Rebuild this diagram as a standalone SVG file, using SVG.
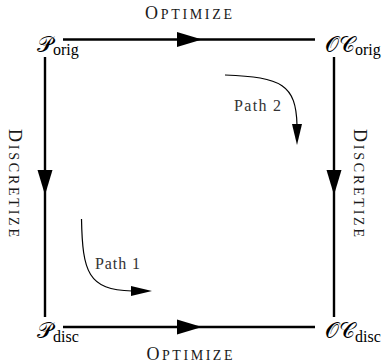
<svg xmlns="http://www.w3.org/2000/svg" width="387" height="364" viewBox="0 0 387 364">
<style>
.edge{fill:none;stroke:#000;stroke-width:2.4}
.curve{fill:none;stroke:#000;stroke-width:1.2}
.lbl{font-family:"Liberation Serif",serif;fill:#1a1a1a}
.big{font-size:18px}
.sc{font-size:14px}
.path{font-family:"Liberation Serif",serif;font-size:16px;fill:#333}
.cal{font-family:"DejaVu Serif","DejaVu Sans",serif;font-size:22px}
.sub{font-family:"Liberation Serif",serif;font-size:16px}
</style>
<defs>
<path id="ah" d="M0,0 L-25,-7.5 L-25,7.5 Z" fill="#000"/>
<path id="sah" d="M0,0 L-21,-5 L-21,5 Z" fill="#000"/>
</defs>
<rect width="387" height="364" fill="#fff"/>
<g id="connectors">
<line class="edge" x1="63" y1="39.5" x2="315" y2="39.5"/>
<line class="edge" x1="63" y1="327" x2="315" y2="327"/>
<line class="edge" x1="45" y1="57" x2="45" y2="317"/>
<line class="edge" x1="334" y1="57" x2="334" y2="317"/>
<use href="#ah" transform="translate(202,39.5)"/>
<use href="#ah" transform="translate(202,327)"/>
<use href="#ah" transform="translate(45,195) rotate(90)"/>
<use href="#ah" transform="translate(334,195) rotate(90)"/>
<text class="lbl big" x="188.5" y="19" text-anchor="middle" textLength="87" lengthAdjust="spacing">O<tspan class="sc">PTIMIZE</tspan></text>
<text class="lbl big" x="189.5" y="360" text-anchor="middle" textLength="86" lengthAdjust="spacing">O<tspan class="sc">PTIMIZE</tspan></text>
<text class="lbl big" transform="translate(8.5,183) rotate(90)" text-anchor="middle" textLength="108" lengthAdjust="spacing">D<tspan class="sc">ISCRETIZE</tspan></text>
<text class="lbl big" transform="translate(353.5,183) rotate(90)" text-anchor="middle" textLength="108" lengthAdjust="spacing">D<tspan class="sc">ISCRETIZE</tspan></text>
<path class="curve" d="M81.5,219 C82.5,272 88,290 132,291"/>
<use href="#sah" transform="translate(152,291)"/>
<text class="path" x="95" y="269" textLength="45" lengthAdjust="spacing">Path 1</text>
<path class="curve" d="M225,75 C282,77 296,85 297,125"/>
<use href="#sah" transform="translate(297,145) rotate(90)"/>
<text class="path" x="234" y="111" textLength="47" lengthAdjust="spacing">Path 2</text>
</g>
<g id="P_orig">
<text x="37" y="52"><tspan class="cal">𝒫</tspan><tspan class="sub" dy="3">orig</tspan></text>
</g>
<g id="OC_orig">
<text x="325" y="52"><tspan class="cal">𝒪𝒞</tspan><tspan class="sub" dy="3">orig</tspan></text>
</g>
<g id="P_disc">
<text x="37" y="338"><tspan class="cal">𝒫</tspan><tspan class="sub" dy="4">disc</tspan></text>
</g>
<g id="OC_disc">
<text x="325" y="338"><tspan class="cal">𝒪𝒞</tspan><tspan class="sub" dy="4">disc</tspan></text>
</g>
</svg>
